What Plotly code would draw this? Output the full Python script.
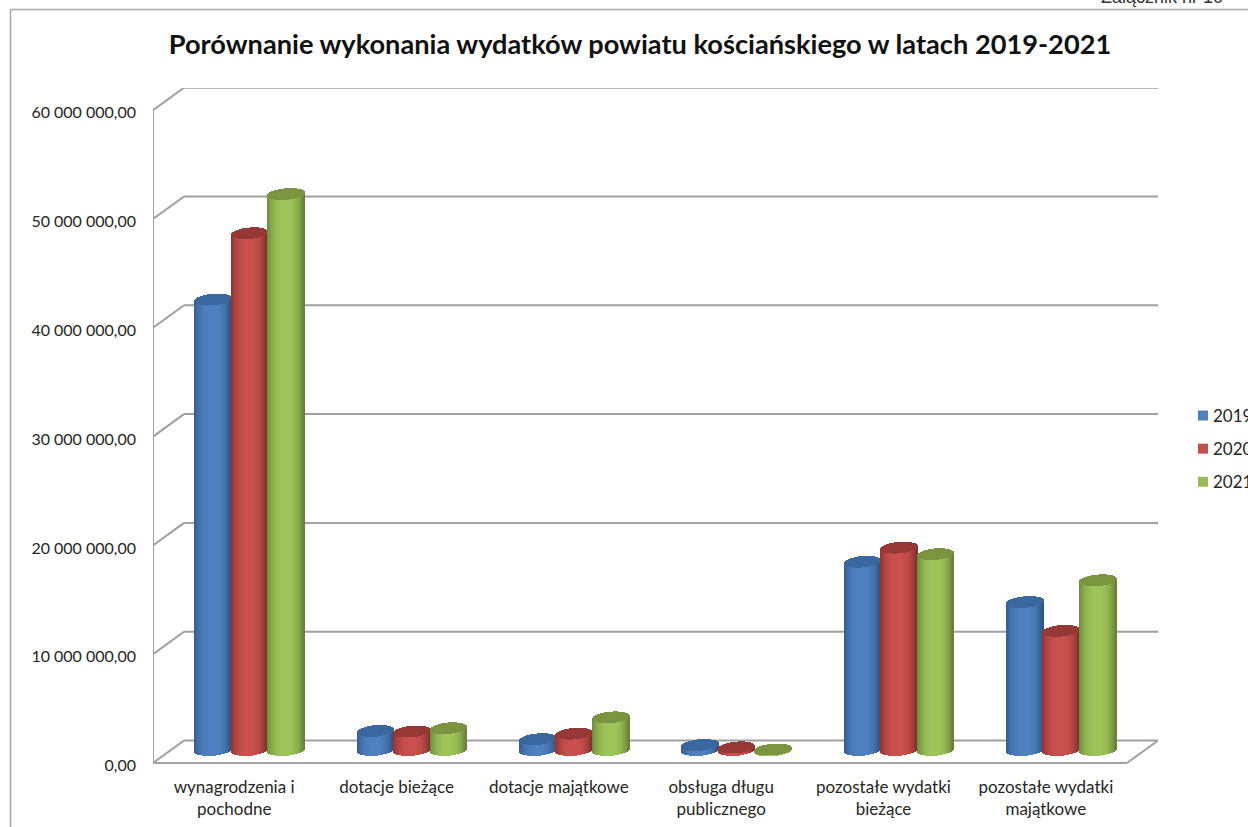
import math
import plotly.graph_objects as go

CATEGORIES = ["wynagrodzenia i<br>pochodne", "dotacje bieżące", "dotacje majątkowe",
              "obsługa długu<br>publicznego", "pozostałe wydatki<br>bieżące", "pozostałe wydatki<br>majątkowe"]
V2019 = [41.4e6, 1.75e6, 1.0e6, 0.46e6, 17.3e6, 13.6e6]
V2020 = [47.5e6, 1.7e6, 1.5e6, 0.25e6, 18.6e6, 10.95e6]
V2021 = [51.1e6, 2.0e6, 3.0e6, 0.05e6, 18.0e6, 15.6e6]
YEARS = ["2019", "2020", "2021"]
TICKS = [0, 10e6, 20e6, 30e6, 40e6, 50e6, 60e6]
TICK_LABELS = ["0,00", "10 000 000,00", "20 000 000,00", "30 000 000,00",
               "40 000 000,00", "50 000 000,00", "60 000 000,00"]
TITLE = "Porównanie wykonania wydatków powiatu kościańskiego w latach 2019-2021"
NOTE = "Załącznik nr 10"

VIEW_W = 1248
W, H = 1310, 827                       # figure runs past the window; the window crops the legend
L, R, T, B = 153, 1158, 88, 770        # plot box in page pixels
ZERO_Y = 763                           # page pixel of the value 0 on the front axis
PX_X = 974 / 6                         # pixels per category
PX_Y = 108.8 / 10e6                    # pixels per unit
DX, DY = 31, 22.5                      # wall depth in pixels
GRID = "#A0A0A0"
FONT = "Lato"
TXT = "#262626"

STYLES = [
    dict(mid=(79, 129, 192), le=(52, 92, 140), re=(44, 82, 128), top=(58, 104, 158), sw="#4F81BD"),
    dict(mid=(201, 80, 77), le=(140, 52, 50), re=(125, 45, 43), top=(150, 56, 54), sw="#C0504D"),
    dict(mid=(158, 196, 90), le=(110, 138, 60), re=(100, 125, 52), top=(122, 148, 64), sw="#9BBB59"),
]
BAR_W = 36.5
STRIPS = 37
RX_Y = 5.7     # ellipse half height, px
TILT = 1.5     # ellipse tilt at the rim, px
BAR_DX = 15.5  # bars stand halfway into the floor
BAR_DY = 13
LABEL_DROP = 2.5  # y tick labels sit slightly below their gridline


def dy(px):
    return px / PX_Y


def dxv(px):
    return px / PX_X


def mix(a, b, t):
    return "rgb(%d,%d,%d)" % tuple(round(a[i] * (1 - t) + b[i] * t) for i in range(3))


def paper_x(px):
    return (px - L) / (R - L)


def paper_y(px):
    return (B - px) / (B - T)


fig = go.Figure()

shapes = []
line = dict(color=GRID, width=2)
for t in TICKS:
    shapes.append(dict(type="line", xref="x", yref="y", x0=-0.5 + dxv(DX), x1=-0.5 + dxv(R - L),
                       y0=t + dy(DY), y1=t + dy(DY), line=line, layer="below"))
    shapes.append(dict(type="line", xref="x", yref="y", x0=-0.5, x1=-0.5 + dxv(DX),
                       y0=t, y1=t + dy(DY), line=line, layer="below"))
shapes.append(dict(type="line", xref="x", yref="y", x0=-0.5, x1=-0.5, y0=0, y1=TICKS[-1], line=line, layer="below"))
shapes.append(dict(type="line", xref="x", yref="y", x0=-0.5, x1=-0.5 + dxv(R - L - DX), y0=0, y1=0, line=line, layer="below"))
shapes.append(dict(type="line", xref="x", yref="y", x0=-0.5 + dxv(R - L - DX), x1=-0.5 + dxv(R - L),
                   y0=0, y1=dy(DY), line=line, layer="below"))
frame = dict(color="#A6A6A6", width=1.5)
shapes.append(dict(type="line", xref="paper", yref="paper", x0=paper_x(10.5), x1=paper_x(VIEW_W),
                   y0=paper_y(9.5), y1=paper_y(9.5), line=frame, layer="below"))
shapes.append(dict(type="line", xref="paper", yref="paper", x0=paper_x(10.5), x1=paper_x(10.5),
                   y0=paper_y(9.5), y1=paper_y(H), line=frame, layer="below"))

for s, values in enumerate([V2019, V2020, V2021]):
    st = STYLES[s]
    xs, bases, heights, colors = [], [], [], []
    txs, tbases, theights, tcolors = [], [], [], []
    for i, v in enumerate(values):
        centre = i + dxv(BAR_DX + (s - 1) * BAR_W)
        for k in range(STRIPS):
            u = -1 + 2 * (k + 0.5) / STRIPS
            arc = RX_Y * math.sqrt(max(0, 1 - u * u))
            tilt = TILT * u
            x = centre + dxv(u * BAR_W / 2)
            y0 = dy(BAR_DY)
            bottom = y0 + dy(tilt - arc)
            front = y0 + v + dy(tilt - arc)
            back = y0 + v + dy(tilt + arc)
            t = abs(u) ** 2.6
            xs.append(x)
            bases.append(bottom)
            heights.append(front - bottom)
            colors.append(mix(st["mid"], st["le"] if u < 0 else st["re"], t))
            txs.append(x)
            tbases.append(front)
            theights.append(back - front)
            tcolors.append(mix(st["top"], st["le"], 0.15 * t))
    fig.add_trace(go.Bar(x=xs, y=heights, base=bases, width=dxv(BAR_W / STRIPS * 1.2),
                         marker=dict(color=colors, line=dict(width=0)),
                         showlegend=False, hoverinfo="skip"))
    fig.add_trace(go.Bar(x=txs, y=theights, base=tbases, width=dxv(BAR_W / STRIPS * 1.2),
                         marker=dict(color=tcolors, line=dict(width=0)),
                         showlegend=False, hoverinfo="skip"))

for s, year in enumerate(YEARS):
    fig.add_trace(go.Scatter(x=[None], y=[None], mode="markers", name=year, legendgroup=year,
                             marker=dict(symbol="square", size=10, color=STYLES[s]["sw"]),
                             hoverinfo="skip"))

fig.update_layout(
    width=W, height=H, autosize=False,
    margin=dict(l=L, r=W - R, t=T, b=H - B, pad=0),
    paper_bgcolor="white", plot_bgcolor="white",
    barmode="overlay", bargap=0,
    font=dict(family=FONT, size=16, color=TXT),
    title=dict(text="<b>" + TITLE + "</b>", x=640 / W, xanchor="center", xref="container",
               y=1 - 44 / H, yanchor="middle", yref="container",
               font=dict(family=FONT, size=27.2, color="#111111")),
    xaxis=dict(range=[-0.5, -0.5 + dxv(R - L)], tickmode="array", tickvals=list(range(6)), ticktext=CATEGORIES,
               showgrid=False, zeroline=False, showline=False, ticks="", ticklabelstandoff=5,
               tickfont=dict(size=17, family=FONT, color=TXT), automargin=False),
    yaxis=dict(range=[-dy(B - ZERO_Y), dy(ZERO_Y - T)], tickmode="array",
               tickvals=[t - dy(LABEL_DROP) for t in TICKS], ticktext=TICK_LABELS,
               showgrid=False, zeroline=False, showline=False, ticks="", ticklabelstandoff=16,
               tickfont=dict(size=16, family=FONT, color=TXT), automargin=False),
    legend=dict(x=paper_x(1173), y=paper_y(398), xanchor="left", yanchor="top", tracegroupgap=8,
                font=dict(size=17, family=FONT, color=TXT), bgcolor="rgba(0,0,0,0)", itemwidth=30),
    showlegend=True,
    shapes=shapes,
    annotations=[dict(text=NOTE, xref="paper", yref="paper", x=paper_x(1224), y=paper_y(4), xanchor="right",
                      yanchor="bottom", showarrow=False, font=dict(family="Liberation Sans", size=18, color="#333333"),
                      borderpad=0, yshift=-4)],
)

fig.write_html("out.html", config=dict(displayModeBar=False),
               post_script="document.body.style.margin='0';document.body.style.overflow='hidden';"
                           "document.documentElement.style.overflow='hidden';"
                           "document.querySelectorAll('.legendsymbols').forEach(function(g){g.setAttribute('transform','translate(10,0)');});")
